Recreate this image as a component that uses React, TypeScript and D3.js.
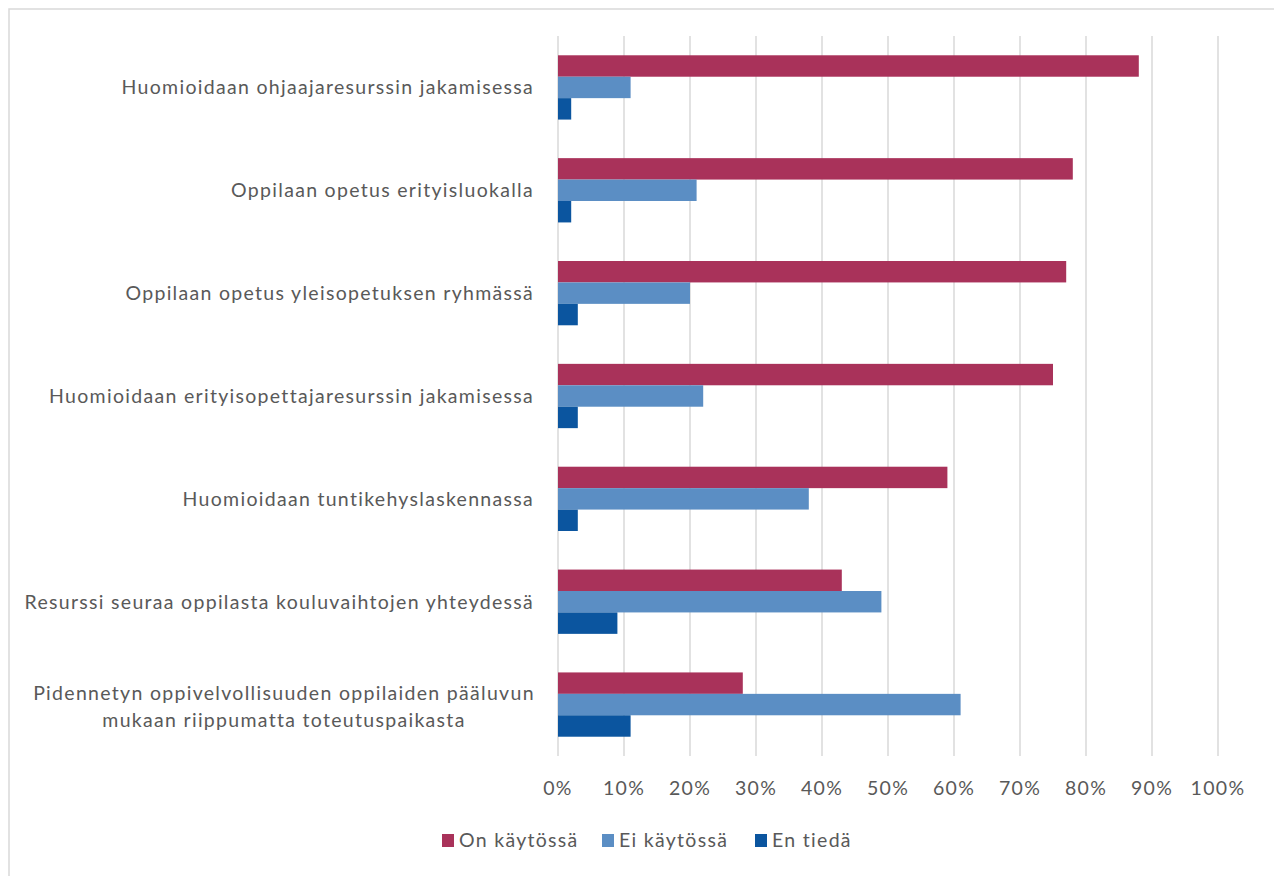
import React from "react";
import * as d3 from "d3";

const categories: string[][] = [
  ["Huomioidaan ohjaajaresurssin jakamisessa"],
  ["Oppilaan opetus erityisluokalla"],
  ["Oppilaan opetus yleisopetuksen ryhmässä"],
  ["Huomioidaan erityisopettajaresurssin jakamisessa"],
  ["Huomioidaan tuntikehyslaskennassa"],
  ["Resurssi seuraa oppilasta kouluvaihtojen yhteydessä"],
  ["Pidennetyn oppivelvollisuuden oppilaiden pääluvun", "mukaan riippumatta toteutuspaikasta"],
];
const seriesNames = ["On käytössä", "Ei käytössä", "En tiedä"];
const onKaytossa = [88, 78, 77, 75, 59, 43, 28];
const eiKaytossa = [11, 21, 20, 22, 38, 49, 61];
const enTieda = [2, 2, 3, 3, 3, 9, 11];
const ticks = [0, 10, 20, 30, 40, 50, 60, 70, 80, 90, 100];
const colors = ["#A9325A", "#5B8EC4", "#0B559F"];

const W = 1274;
const H = 876;
const x0 = 558;
const x1 = 1218;
const y0 = 36;
const y1 = 756;
const FONT = "Lato, 'Open Sans', sans-serif";
const TXT = "#595959";
const FS = 19.5;
const LS = 1.3;

export default function App() {
  const series = [onKaytossa, eiKaytossa, enTieda];
  const x = d3.scaleLinear().domain([0, 100]).range([x0, x1]);
  const y = d3
    .scaleBand<number>()
    .domain(categories.map((_, i) => i))
    .range([y0, y1])
    .paddingInner(0.375)
    .paddingOuter(0.1875);
  const inner = d3
    .scaleBand<number>()
    .domain([0, 1, 2])
    .range([0, y.bandwidth()]);

  const legendX = [442, 602, 755];

  return (
    <svg
      width={W}
      height={H}
      style={{ position: "absolute", left: 0, top: 0, background: "#fff" }}
      fontFamily={FONT}
    >
      <rect x={0} y={0} width={W} height={H} fill="#fff" />
      <rect x={9} y={9} width={W + 20} height={H + 20} fill="none" stroke="#d9d9d9" strokeWidth={1.5} />
      {ticks.map((t) => (
        <line key={t} x1={x(t)} x2={x(t)} y1={y0} y2={y1} stroke="#d9d9d9" strokeWidth={1.5} />
      ))}
      {categories.map((_, i) => (
        <g key={i} transform={`translate(0,${y(i)})`}>
          {series.map((s, j) => (
            <rect
              key={j}
              x={x(0)}
              y={inner(j)}
              width={x(s[i]) - x(0)}
              height={inner.bandwidth()}
              fill={colors[j]}
            />
          ))}
        </g>
      ))}
      {categories.map((lines, i) => {
        const cy = (y(i) as number) + y.bandwidth() / 2;
        const lh = 27;
        const multi = lines.length > 1;
        const start = cy - ((lines.length - 1) * lh) / 2 + (multi ? 2.5 : 0);
        return (
          <text key={i} fontSize={FS} fill={TXT} letterSpacing={LS}>
            {lines.map((ln, k) => (
              <tspan
                key={k}
                x={multi ? 284 : 534}
                textAnchor={multi ? "middle" : "end"}
                y={start + k * lh}
                dy="0.35em"
              >
                {ln}
              </tspan>
            ))}
          </text>
        );
      })}
      {ticks.map((t) => (
        <text
          key={t}
          x={x(t)}
          y={788}
          dy="0.35em"
          textAnchor="middle"
          fontSize={FS}
          fill={TXT}
          letterSpacing={LS}
        >
          {t}%
        </text>
      ))}
      {seriesNames.map((n, j) => (
        <g key={n} transform={`translate(${legendX[j]},834)`}>
          <rect x={0} y={0} width={12} height={13} fill={colors[j]} />
          <text x={17} y={6.5} dy="0.35em" fontSize={FS} fill={TXT} letterSpacing={LS}>
            {n}
          </text>
        </g>
      ))}
    </svg>
  );
}
